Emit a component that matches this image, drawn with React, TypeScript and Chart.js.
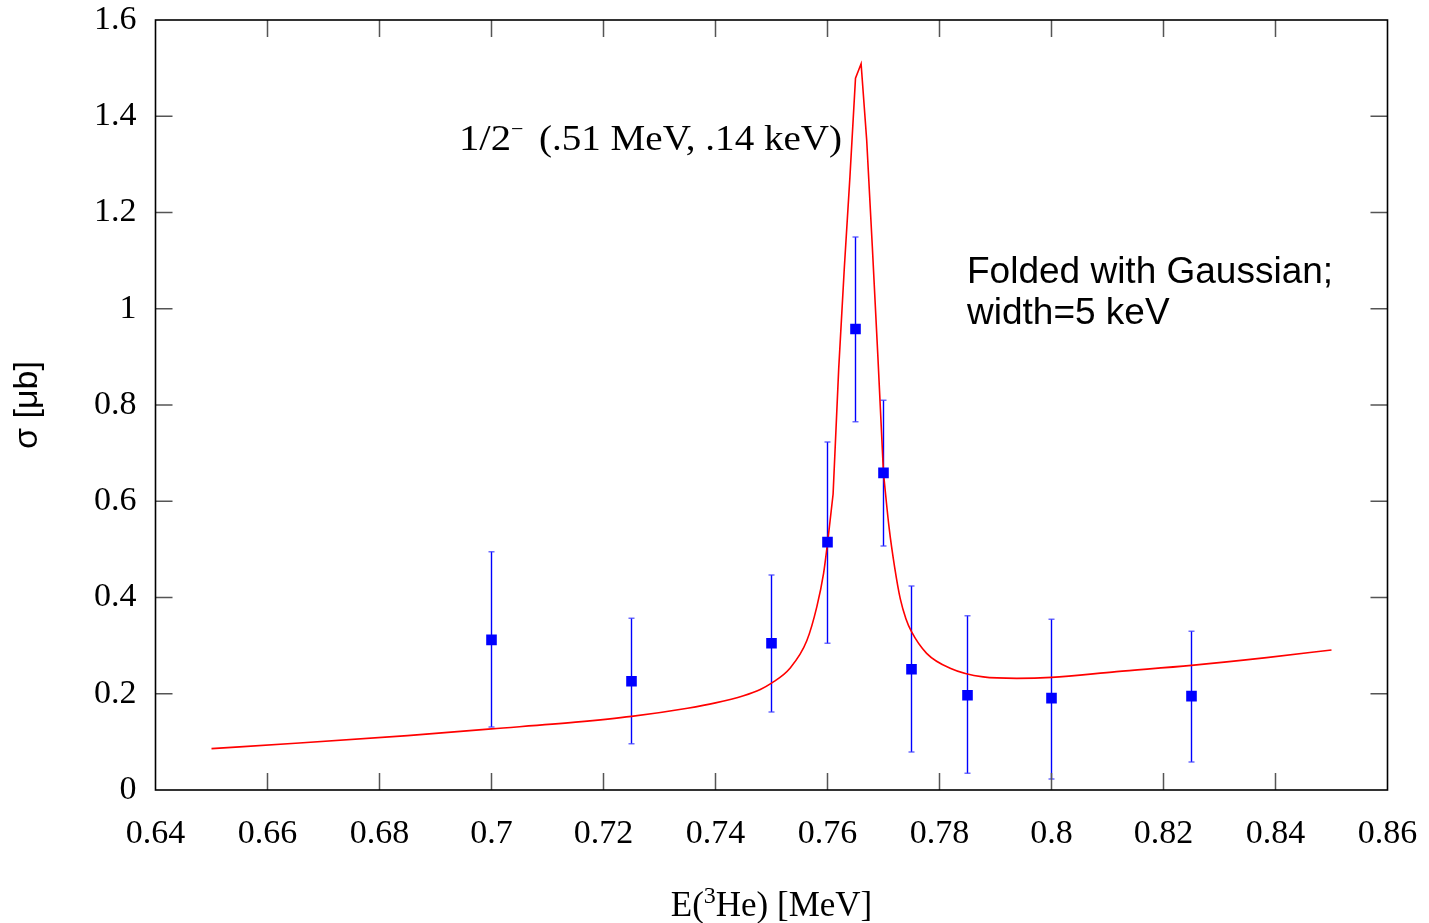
import React, { useEffect, useRef } from 'react';
import { Chart, registerables } from 'chart.js';

Chart.register(...registerables);

// Fitted (folded) cross-section curve: low side, peak, high side
const curveLowE = [0.65, 0.665, 0.685, 0.70, 0.715, 0.725, 0.735, 0.740, 0.745, 0.748, 0.750, 0.7533, 0.7563, 0.7581, 0.7593, 0.760];
const curveLowSigma = [0.086, 0.097, 0.113, 0.127, 0.141, 0.153, 0.170, 0.181, 0.196, 0.209, 0.222, 0.253, 0.310, 0.381, 0.450, 0.512];
const curvePeakE = [0.760, 0.761, 0.762, 0.763, 0.764, 0.765, 0.766, 0.767, 0.768, 0.769, 0.770];
const curvePeakSigma = [0.512, 0.615, 0.875, 1.084, 1.273, 1.479, 1.509, 1.35, 1.13, 0.90, 0.658];
const curveHighE = [0.770, 0.771, 0.772, 0.773, 0.774, 0.775, 0.7777, 0.7819, 0.7878, 0.7938, 0.8000, 0.8116, 0.8250, 0.8384, 0.8500];
const curveHighSigma = [0.658, 0.545, 0.462, 0.397, 0.356, 0.329, 0.284, 0.253, 0.235, 0.232, 0.234, 0.246, 0.259, 0.275, 0.291];

// Measured points with error bars
const dataE = [0.7, 0.725, 0.75, 0.76, 0.765, 0.77, 0.775, 0.785, 0.8, 0.825];
const dataSigma = [0.312, 0.226, 0.305, 0.515, 0.958, 0.659, 0.251, 0.197, 0.191, 0.195];
const errLow = [0.131, 0.096, 0.162, 0.305, 0.765, 0.507, 0.079, 0.035, 0.023, 0.058];
const errHigh = [0.495, 0.357, 0.447, 0.723, 1.149, 0.810, 0.424, 0.362, 0.355, 0.330];

const xTickValues = [0.64, 0.66, 0.68, 0.7, 0.72, 0.74, 0.76, 0.78, 0.8, 0.82, 0.84, 0.86];
const yTickValues = [0, 0.2, 0.4, 0.6, 0.8, 1, 1.2, 1.4, 1.6];

const xTitleParts = ['E(', '3', 'He) [MeV]'];
const yTitle = 'σ [μb]';
const resonanceLabelA = '1/2';
const resonanceLabelSup = '−';
const resonanceLabelB = '(.51 MeV, .14 keV)';
const noteLines = ['Folded with Gaussian;', 'width=5 keV'];

const SERIF = '"Liberation Serif", "Times New Roman", serif';
const SANS = '"Liberation Sans", Arial, sans-serif';

const framePlugin = {
  id: 'frameAndTicks',
  afterDatasetsDraw(chart: any) {
    const { ctx, chartArea, scales } = chart;
    const { left, right, top, bottom } = chartArea;
    const tl = 17;
    ctx.save();
    ctx.lineWidth = 1.5;
    ctx.strokeStyle = '#555';
    ctx.beginPath();
    xTickValues.forEach((v) => {
      const px = scales.x.getPixelForValue(v);
      if (Math.abs(px - left) < 2 || Math.abs(px - right) < 2) return;
      ctx.moveTo(px, bottom);
      ctx.lineTo(px, bottom - tl);
      ctx.moveTo(px, top);
      ctx.lineTo(px, top + tl);
    });
    yTickValues.forEach((v) => {
      const py = scales.y.getPixelForValue(v);
      if (Math.abs(py - top) < 2 || Math.abs(py - bottom) < 2) return;
      ctx.moveTo(left, py);
      ctx.lineTo(left + tl, py);
      ctx.moveTo(right, py);
      ctx.lineTo(right - tl, py);
    });
    ctx.stroke();
    ctx.strokeStyle = '#000';
    ctx.lineWidth = 1.6;
    ctx.strokeRect(left, top, right - left, bottom - top);
    ctx.restore();
  },
  afterDraw(chart: any) {
    const { ctx, chartArea } = chart;
    ctx.save();
    ctx.fillStyle = '#000';
    ctx.textBaseline = 'alphabetic';
    ctx.textAlign = 'left';
    // x title with superscript
    const big = `35px ${SERIF}`;
    const small = `24px ${SERIF}`;
    ctx.font = big;
    const w0 = ctx.measureText(xTitleParts[0]).width;
    const w2 = ctx.measureText(xTitleParts[2]).width;
    ctx.font = small;
    const w1 = ctx.measureText(xTitleParts[1]).width;
    const total = w0 + w1 + w2;
    let tx = (chartArea.left + chartArea.right) / 2 - total / 2;
    const ty = 916;
    ctx.font = big;
    ctx.fillText(xTitleParts[0], tx, ty);
    tx += w0;
    ctx.font = small;
    ctx.fillText(xTitleParts[1], tx, ty - 13);
    tx += w1;
    ctx.font = big;
    ctx.fillText(xTitleParts[2], tx, ty);
    // y title
    ctx.save();
    ctx.translate(37, 405);
    ctx.rotate(-Math.PI / 2);
    ctx.font = `34px ${SANS}`;
    ctx.textAlign = 'center';
    ctx.fillText(yTitle, 0, 0);
    ctx.restore();
    // resonance label
    ctx.textAlign = 'left';
    ctx.font = `36px ${SERIF}`;
    const wA = ctx.measureText(resonanceLabelA).width;
    ctx.save();
    ctx.translate(459, 150);
    ctx.scale(52 / wA, 1);
    ctx.fillText(resonanceLabelA, 0, 0);
    ctx.restore();
    ctx.font = `22px ${SERIF}`;
    ctx.fillText(resonanceLabelSup, 511, 136);
    ctx.font = `36px ${SERIF}`;
    const wB = ctx.measureText(resonanceLabelB).width;
    ctx.save();
    ctx.translate(539, 150);
    ctx.scale(303 / wB, 1);
    ctx.fillText(resonanceLabelB, 0, 0);
    ctx.restore();
    // note
    ctx.font = `37px ${SANS}`;
    ctx.fillText(noteLines[0], 967, 283);
    ctx.fillText(noteLines[1], 967, 324);
    ctx.restore();
  },
};

const curveStyle = {
  borderColor: '#ff0000',
  borderWidth: 1.6,
  pointRadius: 0,
  fill: false,
  order: 1,
};

export default function App() {
  const ref = useRef<HTMLCanvasElement | null>(null);
  useEffect(() => {
    if (!ref.current) return;
    const errData: any[] = [];
    dataE.forEach((e, i) => {
      errData.push({ x: e, y: errLow[i] });
      errData.push({ x: e, y: errHigh[i] });
      errData.push({ x: e, y: null });
    });
    const chart = new Chart(ref.current, {
      type: 'line',
      data: {
        datasets: [
          {
            label: 'data',
            data: dataE.map((e, i) => ({ x: e, y: dataSigma[i] })),
            showLine: false,
            pointStyle: 'rect',
            pointRadius: 7.5,
            pointBorderWidth: 0,
            pointBackgroundColor: '#0000ff',
            pointBorderColor: '#0000ff',
            order: 0,
          },
          {
            label: 'fit-low',
            data: curveLowE.map((e, i) => ({ x: e, y: curveLowSigma[i] })),
            cubicInterpolationMode: 'monotone',
            ...curveStyle,
          },
          {
            label: 'fit-peak',
            data: curvePeakE.map((e, i) => ({ x: e, y: curvePeakSigma[i] })),
            tension: 0,
            ...curveStyle,
          },
          {
            label: 'fit-high',
            data: curveHighE.map((e, i) => ({ x: e, y: curveHighSigma[i] })),
            cubicInterpolationMode: 'monotone',
            ...curveStyle,
          },
          {
            label: 'errors',
            data: errData,
            borderColor: '#0000ff',
            borderWidth: 1.4,
            spanGaps: false,
            pointStyle: 'line',
            pointRadius: 3,
            pointBorderWidth: 1.5,
            pointBorderColor: 'rgba(60,60,255,0.75)',
            fill: false,
            order: 2,
          },
        ],
      } as any,
      options: {
        animation: false,
        responsive: false,
        devicePixelRatio: 1,
        layout: { padding: { top: 20, right: 41.5, left: 0, bottom: 0 } },
        plugins: { legend: { display: false }, tooltip: { enabled: false } },
        events: [],
        scales: {
          x: {
            type: 'linear',
            min: 0.64,
            max: 0.86,
            afterFit: (s: any) => { s.height = 133; s.paddingLeft = 0; s.paddingRight = 0; },
            afterBuildTicks: (s: any) => { s.ticks = xTickValues.map((v) => ({ value: v })); },
            ticks: {
              color: '#000',
              font: { family: SERIF, size: 34 },
              padding: 24,
              maxRotation: 0,
              autoSkip: false,
              callback: (v: any) => String(Number(Number(v).toFixed(2))),
            },
            grid: { display: false, drawTicks: false },
            border: { display: false },
          },
          y: {
            type: 'linear',
            min: 0,
            max: 1.6,
            afterFit: (s: any) => { s.width = 155.5; s.paddingTop = 0; s.paddingBottom = 0; },
            afterBuildTicks: (s: any) => { s.ticks = yTickValues.map((v) => ({ value: v })); },
            ticks: {
              color: '#000',
              font: { family: SERIF, size: 34 },
              padding: 19,
              autoSkip: false,
              callback: (v: any) => String(Number(Number(v).toFixed(2))),
            },
            grid: { display: false, drawTicks: false },
            border: { display: false },
          },
        },
      } as any,
      plugins: [framePlugin],
    });
    return () => chart.destroy();
  }, []);
  return (
    <div style={{ position: 'fixed', left: 0, top: 0, width: 1429, height: 923, background: '#fff' }}>
      <canvas ref={ref} width={1429} height={923} style={{ display: 'block' }} />
    </div>
  );
}
